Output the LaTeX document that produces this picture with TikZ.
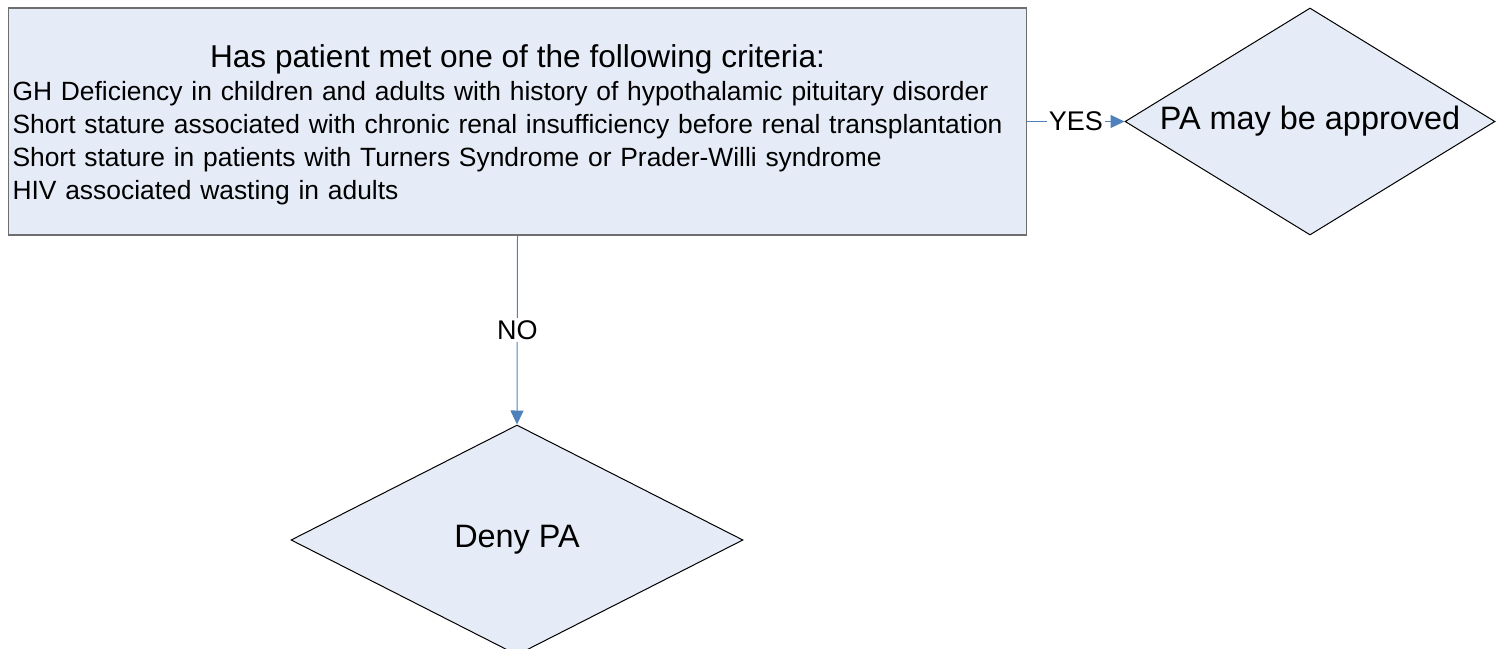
\documentclass[tikz,border=0pt]{standalone}
\usepackage{fontspec}
\setmainfont{Liberation Sans}
\usetikzlibrary{arrows.meta,shapes.geometric,positioning}
\definecolor{boxfill}{RGB}{230,236,247}
\definecolor{boxline}{RGB}{110,110,110}
\definecolor{linkblue}{RGB}{79,129,189}

\tikzset{
  critbox/.style={draw=boxline, fill=boxfill, line width=0.6pt, text width=505pt,
    minimum height=113.5pt, inner sep=2pt, align=left, font=\fontsize{13.2}{16.5}\selectfont},
  decision/.style={draw=black, fill=boxfill, line width=0.5pt, shape=diamond, inner sep=0pt,
    font=\fontsize{16.2}{19}\selectfont},
  link/.style={draw=linkblue, line width=0.5pt, -{Triangle[length=7pt,width=6.5pt]}},
  linklabel/.style={fill=white, inner sep=1pt, font=\fontsize{13.5}{16}\selectfont}
}

\begin{document}
\begin{tikzpicture}[x=0.5pt,y=-0.5pt]

  \useasboundingbox (0,0) rectangle (1498,648);

  \node[critbox] (crit) at (517.5,121.5)
    {\makebox[505pt]{\fontsize{15.8}{16.5}\selectfont\rule{0pt}{15pt}Has patient met one of the following criteria:}\\
     GH Deficiency in children and adults with history of hypothalamic pituitary disorder\\
     Short stature associated with chronic renal insufficiency before renal transplantation\\
     Short stature in patients with Turners Syndrome or Prader-Willi syndrome\\
     HIV associated wasting in adults};

  \node[decision, minimum width=185pt, minimum height=113.5pt, aspect=1.63]
    (approve) at (1310,121.5) {PA may be approved};

  \node[decision, minimum width=226pt, minimum height=115pt, aspect=1.965]
    (deny) at (517,540) {Deny PA};

  %links
  \draw[link] (crit.east) -- node[linklabel] {YES} (approve.west);
  \draw[link] (crit.south) -- node[linklabel] {NO} (deny.north);

\end{tikzpicture}
\end{document}
